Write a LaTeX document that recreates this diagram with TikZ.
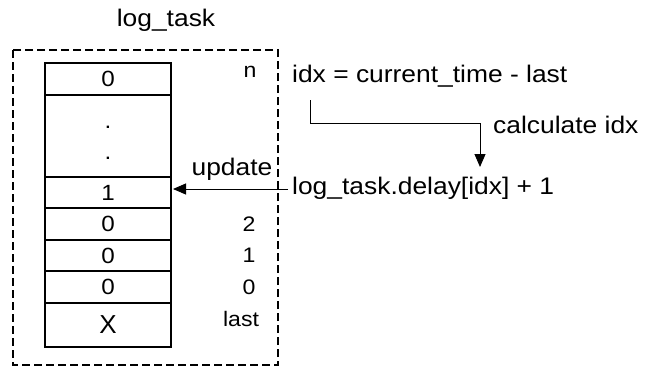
\documentclass[tikz,border=0pt]{standalone}
\usepackage{fontspec}
\setmainfont{Liberation Sans}[FakeStretch=1.1]
\newfontfamily\plainsans{Liberation Sans}
\usetikzlibrary{arrows.meta}

\tikzset{
  cell/.style={draw, line width=1.4pt},
  lbl/.style={inner sep=0pt, font=\fontsize{24}{28}\selectfont},
  val/.style={inner sep=0pt, font=\fontsize{22}{26}\selectfont},
  idxlbl/.style={inner sep=0pt, font=\fontsize{21}{25}\selectfont},
  frame/.style={draw, line width=1.2pt, dash pattern=on 8pt off 4pt},
  link/.style={draw, line width=1pt, -{Triangle[length=13pt, width=11pt]}},
}

\begin{document}
\begin{tikzpicture}[x=1pt, y=-1pt]
  \useasboundingbox (0,0) rectangle (660,367);

  % title and dashed outline of the task structure
  \node[lbl] (title) at (166,20) {log\_task};
  \path[frame] (13,50) rectangle (278,365);

  % the delay array, one cell per slot
  \path[cell] (45,63) rectangle (171,95);
  \path[cell] (45,95) rectangle (171,177);
  \path[cell] (45,177) rectangle (171,208);
  \path[cell] (45,208) rectangle (171,240);
  \path[cell] (45,240) rectangle (171,271);
  \path[cell] (45,271) rectangle (171,303);
  \path[cell] (45,303) rectangle (171,347);
  \coordinate (slotedge) at (171,189);

  \node[val] (vn) at (108,79) {0};
  \node[val, anchor=base] (dotA) at (108,128) {.};
  \node[val, anchor=base] (dotB) at (108,159) {.};
  \node[val] (v1) at (108,193) {1};
  \node[val] (v2) at (108,224) {0};
  \node[val] (v3) at (108,256) {0};
  \node[val] (v4) at (108,287) {0};
  \node[inner sep=0pt, font=\plainsans\fontsize{26}{30}\selectfont] (vx) at (108,325) {X};

  % slot indices
  \node[idxlbl, anchor=base] (in) at (250,77) {n};
  \node[idxlbl, anchor=base] (i2) at (249,231) {2};
  \node[idxlbl, anchor=base] (i1) at (249,262) {1};
  \node[idxlbl, anchor=base] (i0) at (249,294) {0};
  \node[idxlbl, anchor=base] (il) at (241,326) {last};

  % computation on the right
  \node[lbl, anchor=base west] (idx) at (292,82) {idx = current\_time - last};
  \node[lbl, anchor=base west] (calc) at (493,133) {calculate idx};
  \node[lbl, anchor=base west] (delay) at (292,194) {log\_task.delay[idx] + 1};
  \node[lbl, anchor=base] (upd) at (232,175) {update};

  \coordinate (bendA) at (310,100);
  \coordinate (bendB) at (480,123);
  \path[link] (bendA) |- (bendB) -- (bendB |- 0,167);
  \path[link] (delay.west |- slotedge) ++(-4,0) -- ([xshift=2pt]slotedge);
\end{tikzpicture}
\end{document}
